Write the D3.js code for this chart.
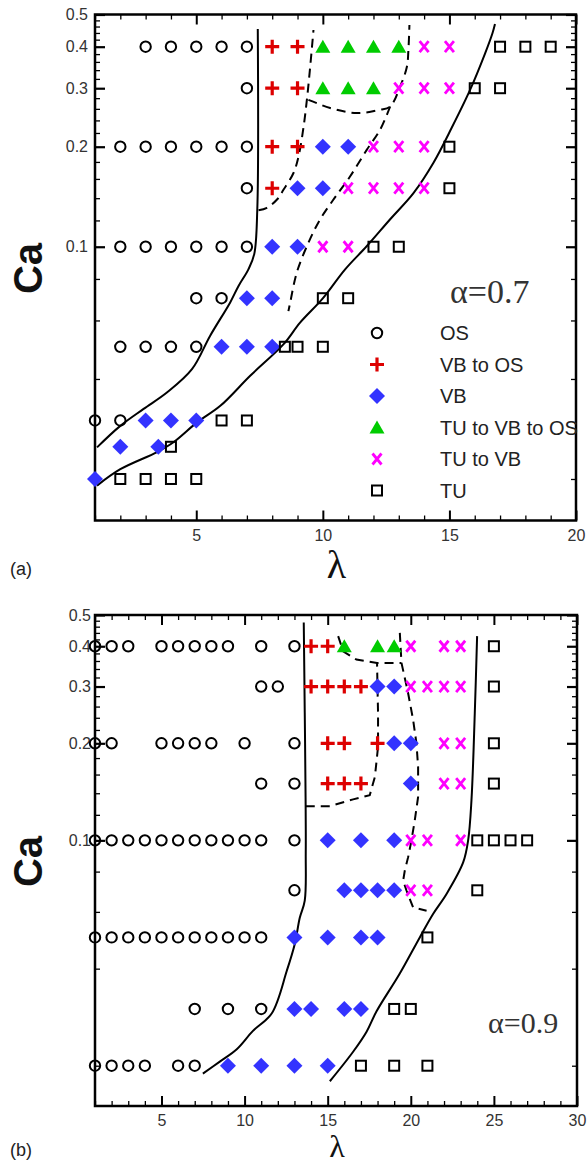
<!DOCTYPE html>
<html>
<head>
<meta charset="utf-8">
<script src="https://cdn.jsdelivr.net/npm/d3@7"></script>
<style>
  body { margin: 0; background: #fff; }
  text { font-family: "Liberation Sans", Arial, Helvetica, sans-serif; }
</style>
</head>
<body>
<svg id="chart" width="588" height="1164"></svg>
<script>
// ---- data: regime maps, rows are [Ca, [lambda values]] ----
const regimes = ["OS", "VB to OS", "VB", "TU to VB to OS", "TU to VB", "TU"];

const osA    = [[0.4,[3,4,5,6,7]],[0.3,[7]],[0.2,[2,3,4,5,6,7]],[0.15,[7]],[0.1,[2,3,4,5,6,7]],[0.07,[5,6]],[0.05,[2,3,4,5]],[0.03,[1,2]]];
const vbosA  = [[0.4,[8,9]],[0.3,[8,9]],[0.2,[8,9]],[0.15,[8]]];
const vbA    = [[0.2,[10,11]],[0.15,[9,10]],[0.1,[8,9]],[0.07,[7,8]],[0.05,[6,7,8]],[0.03,[3,4,5]],[0.025,[2,3.5]],[0.02,[1]]];
const tuvbosA= [[0.4,[10,11,12,13]],[0.3,[10,11,12]]];
const tuvbA  = [[0.4,[14,15]],[0.3,[13,14,15]],[0.2,[12,13,14]],[0.15,[11,12,13,14]],[0.1,[10,11]]];
const tuA    = [[0.4,[17,18,19]],[0.3,[16,17]],[0.2,[15]],[0.15,[15]],[0.1,[12,13]],[0.07,[10,11]],[0.05,[8.5,9,10]],[0.03,[6,7]],[0.025,[4]],[0.02,[2,3,4,5]]];

const osB    = [[0.4,[1,2,3,5,6,7,8,9,11,13]],[0.3,[11,12]],[0.2,[1,2,5,6,7,8,10,13]],[0.15,[11,13]],[0.1,[1,2,3,4,5,6,7,8,9,10,11,13]],[0.07,[13]],[0.05,[1,2,3,4,5,6,7,8,9,10,11]],[0.03,[7,9,11]],[0.02,[1,2,3,4,6,7]]];
const vbosB  = [[0.4,[14,15]],[0.3,[14,15,16,17]],[0.2,[15,16,18]],[0.15,[15,16,17]]];
const vbB    = [[0.3,[18,19]],[0.2,[19,20]],[0.15,[20]],[0.1,[15,17,19]],[0.07,[16,17,18,19]],[0.05,[13,15,17,18]],[0.03,[13,14,16,17]],[0.02,[9,11,13,15]]];
const tuvbosB= [[0.4,[16,18,19]]];
const tuvbB  = [[0.4,[20,22,23]],[0.3,[20,21,22,23]],[0.2,[22,23]],[0.15,[22,23]],[0.1,[20,21,23]],[0.07,[20,21]]];
const tuB    = [[0.4,[25]],[0.3,[25]],[0.2,[25]],[0.15,[25]],[0.1,[24,25,26,27]],[0.07,[24]],[0.05,[21]],[0.03,[19,20]],[0.02,[17,19,21]]];

// boundary curves [lambda, Ca]
const solidA1 = [[7.43,0.452],[7.41,0.129],[7.29,0.095],[7.06,0.0855],[6.67,0.0762],[6.34,0.068],[5.55,0.054],[4.83,0.0428],[3.84,0.0364],[2.92,0.0325],[2.0,0.0289],[1.08,0.0249]];
const solidA2 = [[16.8,0.468],[16.7,0.439],[16.41,0.382],[15.82,0.297],[15.09,0.228],[14.37,0.179],[13.58,0.145],[12.66,0.121],[11.74,0.1005],[10.88,0.0855],[9.99,0.0698],[9.1,0.0591],[8.45,0.0509],[7.13,0.0409],[5.95,0.0332],[5.03,0.0296],[4.1,0.0258],[3.45,0.0241],[2.0,0.0214],[1.08,0.0191]];
const dashA1 = [[7.46,0.1288],[7.79,0.131],[8.19,0.1387],[8.45,0.1486],[8.84,0.1667],[9.04,0.187],[9.24,0.23],[9.37,0.277],[9.5,0.348],[9.63,0.449]];
const dashA2 = [[9.43,0.2767],[9.76,0.2705],[10.29,0.2615],[11.34,0.2526],[12.26,0.2584],[12.66,0.2643],[13.05,0.303],[13.32,0.348],[13.38,0.391],[13.42,0.465]];
const dashA3 = [[12.66,0.2643],[12.26,0.2249],[11.74,0.196],[11.08,0.163],[10.42,0.1387],[9.89,0.1208],[9.43,0.1028],[8.97,0.0836],[8.71,0.0679],[8.64,0.064]];

const solidB1 = [[13.56,0.474],[13.62,0.2486],[13.67,0.136],[13.68,0.0911],[13.62,0.065],[13.32,0.0575],[13.02,0.0477],[12.54,0.0394],[11.64,0.0291],[10.49,0.0256],[9.53,0.0225],[8.51,0.0206],[7.49,0.0189]];
const solidB2 = [[23.99,0.43],[23.85,0.248],[23.65,0.133],[23.45,0.1],[23.15,0.0854],[22.15,0.0682],[21.34,0.0591],[20.54,0.05],[19.32,0.0385],[17.94,0.0295],[17.34,0.0255],[16.53,0.0221],[15.13,0.0179]];
const dashB1 = [[13.68,0.1276],[15.13,0.1276],[16.53,0.134],[17.53,0.138],[17.84,0.1574],[18.03,0.1953],[18.03,0.248],[18.0,0.293],[17.97,0.355]];
const dashB2 = [[15.63,0.43],[15.93,0.386],[16.73,0.3636],[17.97,0.355],[19.44,0.355]];
const dashB3 = [[19.34,0.44],[19.44,0.355],[19.84,0.286],[20.14,0.2365],[20.34,0.2],[20.44,0.169],[20.44,0.1364],[20.24,0.1154],[20.04,0.1],[19.84,0.0887],[19.64,0.0806],[19.54,0.075],[19.74,0.0699],[20.14,0.0619],[20.95,0.0605]];

const yMajor = [0.1, 0.2, 0.3, 0.4, 0.5];
const yMinor = [0.02,0.04,0.06,0.08,0.12,0.14,0.16,0.18,0.22,0.24,0.26,0.28,0.32,0.34,0.36,0.38,0.42,0.44,0.46,0.48];

const svg = d3.select("#chart");

// marker painters
function drawMarker(g, type) {
  if (type === "OS") {
    g.append("circle").attr("r", 5.2).attr("fill", "none").attr("stroke", "#000").attr("stroke-width", 2);
  } else if (type === "VB to OS") {
    g.append("path").attr("d", "M-7,0H7M0,-7V7").attr("stroke", "#dd0000").attr("stroke-width", 3.2);
  } else if (type === "VB") {
    g.append("path").attr("d", "M0,-8L8,0L0,8L-8,0Z").attr("fill", "#3333ff");
  } else if (type === "TU to VB to OS") {
    g.append("path").attr("d", "M0,-7L7.5,6L-7.5,6Z").attr("fill", "#00cc00");
  } else if (type === "TU to VB") {
    g.append("path").attr("d", "M-4.5,-5.5L4.5,5.5M4.5,-5.5L-4.5,5.5").attr("stroke", "#ff00ff").attr("stroke-width", 2.8);
  } else {
    g.append("rect").attr("x", -5).attr("y", -5).attr("width", 10).attr("height", 10)
      .attr("fill", "none").attr("stroke", "#000").attr("stroke-width", 2);
  }
}

function drawPanel(cfg) {
  const { x, y } = cfg;
  const [x0, x1] = x.range();
  const [y0, y1] = y.range(); // y0 bottom, y1 top
  const g = svg.append("g");

  // axes with inward ticks
  const styleAxis = (sel, w) => {
    sel.select(".domain").remove();
    sel.selectAll("line").attr("stroke", "#000").attr("stroke-width", w);
    sel.selectAll("text").attr("fill", "#333").style("font-size", "16px");
  };
  const xMinorTicks = d3.range(x.domain()[0], x.domain()[1] + 1).filter(v => v % 5 !== 0);

  g.append("g").attr("transform", `translate(0,${y0})`)
    .call(d3.axisBottom(x).tickValues(cfg.xMajor).tickSize(-10).tickPadding(9).tickFormat(d3.format("d")))
    .call(s => styleAxis(s, 2));
  g.append("g").attr("transform", `translate(0,${y0})`)
    .call(d3.axisBottom(x).tickValues(xMinorTicks).tickSize(-5).tickFormat(""))
    .call(s => styleAxis(s, 1.3));
  g.append("g").attr("transform", `translate(0,${y1})`)
    .call(d3.axisTop(x).tickValues(cfg.xMajor).tickSize(-10).tickFormat(""))
    .call(s => styleAxis(s, 2));
  g.append("g").attr("transform", `translate(0,${y1})`)
    .call(d3.axisTop(x).tickValues(xMinorTicks).tickSize(-5).tickFormat(""))
    .call(s => styleAxis(s, 1.3));

  g.append("g").attr("transform", `translate(${x0},0)`)
    .call(d3.axisLeft(y).tickValues(yMajor).tickSize(-10).tickPadding(cfg.yPad).tickFormat(d3.format(".1f")))
    .call(s => styleAxis(s, 2.2));
  g.append("g").attr("transform", `translate(${x0},0)`)
    .call(d3.axisLeft(y).tickValues(yMinor).tickSize(-5).tickFormat(""))
    .call(s => styleAxis(s, 1.3));
  g.append("g").attr("transform", `translate(${x1},0)`)
    .call(d3.axisRight(y).tickValues(yMajor).tickSize(-10).tickFormat(""))
    .call(s => styleAxis(s, 2.2));
  g.append("g").attr("transform", `translate(${x1},0)`)
    .call(d3.axisRight(y).tickValues(yMinor).tickSize(-5).tickFormat(""))
    .call(s => styleAxis(s, 1.3));

  // frame
  g.append("rect").attr("x", x0).attr("y", y1).attr("width", x1 - x0).attr("height", y0 - y1)
    .attr("fill", "none").attr("stroke", "#000").attr("stroke-width", 2.5);

  // boundary curves
  const line = d3.line().x(d => x(d[0])).y(d => y(d[1])).curve(d3.curveCatmullRom.alpha(0.5));
  const lineLin = d3.line().x(d => x(d[0])).y(d => y(d[1]));
  cfg.solid.forEach(pts => {
    g.append("path").attr("d", line(pts)).attr("fill", "none").attr("stroke", "#000").attr("stroke-width", 2);
  });
  cfg.dashed.forEach(pts => {
    g.append("path").attr("d", (cfg.linearDash ? lineLin : line)(pts)).attr("fill", "none")
      .attr("stroke", "#000").attr("stroke-width", 2).attr("stroke-dasharray", "9,6");
  });

  // data markers
  cfg.sets.forEach(([type, rows]) => {
    const pts = rows.flatMap(([ca, lams]) => lams.map(l => [l, ca]));
    g.selectAll(null).data(pts).enter().append("g")
      .attr("transform", d => `translate(${x(d[0])},${y(d[1])})`)
      .each(function() { drawMarker(d3.select(this), type); });
  });

  // labels
  g.append("text").attr("transform", `translate(42,${(y0 + y1) / 2 + 1}) rotate(-90)`)
    .attr("text-anchor", "middle").style("font-size", "40px").style("font-weight", "bold").attr("fill", "#111").text("Ca");
  g.append("text").attr("x", (x0 + x1) / 2 + 1).attr("y", cfg.lamY).attr("text-anchor", "middle")
    .style("font-family", "'Liberation Serif', 'DejaVu Serif', serif").style("font-size", cfg.lamSize + "px").attr("fill", "#111").text("λ");
  g.append("text").attr("x", 10).attr("y", cfg.tagY).style("font-size", "18px").attr("fill", "#222").text(cfg.tag);
  g.append("text").attr("x", cfg.alpha[0]).attr("y", cfg.alpha[1])
    .style("font-family", "'Liberation Serif', 'DejaVu Serif', serif").style("font-size", cfg.alpha[2] + "px")
    .attr("fill", "#333").text(cfg.alpha[3]);
  return g;
}

const xA = d3.scaleLinear().domain([1, 20]).range([95, 576]);
const yA = d3.scaleLog().domain([0.015, 0.5]).range([520.5, 14.5]);
const gA = drawPanel({
  x: xA, y: yA, xMajor: [5, 10, 15, 20], yPad: 7,
  solid: [solidA1, solidA2], dashed: [dashA1, dashA2, dashA3],
  sets: [["OS", osA], ["VB to OS", vbosA], ["VB", vbA], ["TU to VB to OS", tuvbosA], ["TU to VB", tuvbA], ["TU", tuA]],
  lamY: 578, lamSize: 40, tag: "(a)", tagY: 575, alpha: [450, 303, 34, "α=0.7"]
});

// legend (panel a)
const legend = gA.append("g");
regimes.forEach((r, i) => {
  const row = legend.append("g").attr("transform", `translate(377,${333 + i * 31.5})`);
  drawMarker(row, r);
  row.append("text").attr("x", 63).attr("y", 7).style("font-size", "20px").attr("fill", "#222").text(r);
});

const xB = d3.scaleLinear().domain([1, 30]).range([95, 577]);
const yB = d3.scaleLog().domain([0.015, 0.5]).range([1106, 615]);
drawPanel({
  x: xB, y: yB, xMajor: [5, 10, 15, 20, 25, 30], yPad: 4, linearDash: true,
  solid: [solidB1, solidB2], dashed: [dashB1, dashB2, dashB3],
  sets: [["OS", osB], ["VB to OS", vbosB], ["VB", vbB], ["TU to VB to OS", tuvbosB], ["TU to VB", tuvbB], ["TU", tuB]],
  lamY: 1157, lamSize: 32, tag: "(b)", tagY: 1156, alpha: [488, 1033, 30, "α=0.9"]
});
</script>
</body>
</html>
